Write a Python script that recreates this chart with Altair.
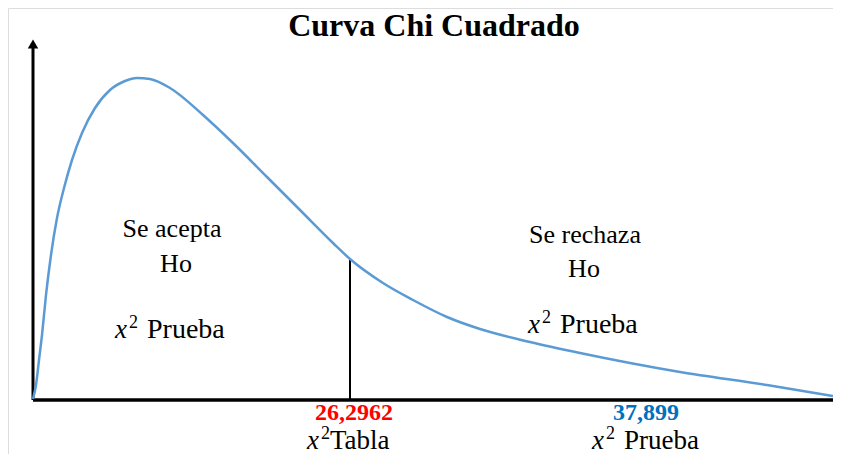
import altair as alt
import pandas as pd

# Curve (x: 0..100 along the axis, y: 0..~80 height)
curva_x = [0, 0.375, 0.75, 1.125, 1.625, 2.25, 3, 3.875, 4.875, 6.125, 7.75, 9.625,
           11.5, 13, 14.625, 17.125, 21.25, 25, 29.25, 33.375, 37.5, 39.625, 43.75,
           47.5, 51.75, 55.875, 62.125, 68.375, 74.625, 80.875, 91.75, 100]
curva_y = [0.25, 3.75, 10, 16.25, 26.25, 36.25, 45.5, 53, 60, 66.75, 73, 77.5,
           79.75, 80.5, 80.25, 78, 71.25, 64.25, 55.75, 47.5, 39.25, 35.25, 29.25,
           25, 20.75, 17.75, 14.5, 11.75, 9.25, 7, 3.75, 1]

corte_x = 39.625          # position of the critical value on the curve axis
corte_y = 35.25
valores = ["26,2962", "37,899"]
titulo = "Curva Chi Cuadrado"

X_DOM = [-3.125, 100]
Y_DOM = [-13.5, 98]
xs = alt.Scale(domain=X_DOM, nice=False, zero=False)
ys = alt.Scale(domain=Y_DOM, nice=False, zero=False)


def X(f="x"):
    return alt.X(f"{f}:Q", scale=xs, axis=None)


def Y(f="y"):
    return alt.Y(f"{f}:Q", scale=ys, axis=None)


SERIF = "Liberation Serif"

curve_df = pd.DataFrame({"x": curva_x, "y": curva_y})
curve = alt.Chart(curve_df).mark_line(
    color="#5B9BD5", strokeWidth=2.5, interpolate="monotone"
).encode(x=X(), y=Y())

# axes drawn as rules
haxis = alt.Chart(pd.DataFrame({"x": [0], "x2": [100], "y": [0]})).mark_rule(
    color="black", strokeWidth=3.5
).encode(x=X(), x2="x2:Q", y=Y())
vaxis = alt.Chart(pd.DataFrame({"x": [0], "y": [0], "y2": [88]})).mark_rule(
    color="black", strokeWidth=3
).encode(x=X(), y=Y(), y2="y2:Q")
arrow = alt.Chart(pd.DataFrame({"x": [0], "y": [89]})).mark_point(
    shape="triangle-up", filled=True, color="black", opacity=1, size=110
).encode(x=X(), y=Y())

cut = alt.Chart(pd.DataFrame({"x": [corte_x], "y": [0], "y2": [corte_y]})).mark_rule(
    color="black", strokeWidth=2
).encode(x=X(), y=Y(), y2="y2:Q")

title = alt.Chart(pd.DataFrame({"x": [50.125], "y": [91.0], "t": [titulo]})).mark_text(
    font=SERIF, fontSize=32, fontWeight="bold", color="black", baseline="alphabetic"
).encode(x=X(), y=Y(), text="t:N")

# plain centred labels
labels_df = pd.DataFrame({
    "x": [17.375, 17.875, 69, 68.875],
    "y": [40.75, 32, 39.25, 30.75],
    "t": ["Se acepta", "Ho", "Se rechaza", "Ho"],
})
labels = alt.Chart(labels_df).mark_text(
    font=SERIF, fontSize=26, color="black", baseline="alphabetic"
).encode(x=X(), y=Y(), text="t:N")

# "x² word" labels: italic x, superscript 2, word
chi_df = pd.DataFrame({
    "x": [10.25, 61.875, 34.25, 69.875],
    "y": [15.5, 16.75, -12.25, -12.25],
    "w": ["Prueba", "Prueba", "Tabla", "Prueba"],
    "pos": ["in", "in", "out", "out"],
})
chi_x = alt.Chart(chi_df).mark_text(
    font=SERIF, fontSize=27, fontStyle="italic", color="black",
    baseline="alphabetic", align="left", text="x"
).encode(x=X(), y=Y())
chi_2 = alt.Chart(chi_df).mark_text(
    font=SERIF, fontSize=18, color="black", baseline="alphabetic",
    align="left", dx=14, dy=-10, text="2"
).encode(x=X(), y=Y())
chi_prueba_in = alt.Chart(chi_df).transform_filter(
    (alt.datum.w == "Prueba") & (alt.datum.pos == "in")
).mark_text(
    font=SERIF, fontSize=28, color="black", baseline="alphabetic", align="left", dx=32
).encode(x=X(), y=Y(), text="w:N")
chi_prueba_out = alt.Chart(chi_df).transform_filter(
    (alt.datum.w == "Prueba") & (alt.datum.pos == "out")
).mark_text(
    font=SERIF, fontSize=27, color="black", baseline="alphabetic", align="left", dx=32
).encode(x=X(), y=Y(), text="w:N")
chi_tabla = alt.Chart(chi_df).transform_filter(alt.datum.w == "Tabla").mark_text(
    font=SERIF, fontSize=27, color="black", baseline="alphabetic", align="left", dx=23
).encode(x=X(), y=Y(), text="w:N")

vals_df = pd.DataFrame({"x": [40.125, 76.625], "y": [-5.0, -5.0], "t": valores,
                        "c": ["#FF0000", "#0070C0"]})
vals = alt.Chart(vals_df).mark_text(
    font=SERIF, fontSize=24, fontWeight="bold", baseline="alphabetic"
).encode(x=X(), y=Y(), text="t:N", color=alt.Color("c:N", scale=None))

chart = alt.layer(haxis, vaxis, arrow, cut, curve, title, labels,
                  chi_x, chi_2, chi_prueba_in, chi_prueba_out, chi_tabla, vals).properties(
    width=825, height=446, padding=0,
    autosize=alt.AutoSizeParams(type="none"),
).configure_view(stroke=None).configure(background="white")

chart.save("out.html", embed_options={"renderer": "svg", "actions": False})
